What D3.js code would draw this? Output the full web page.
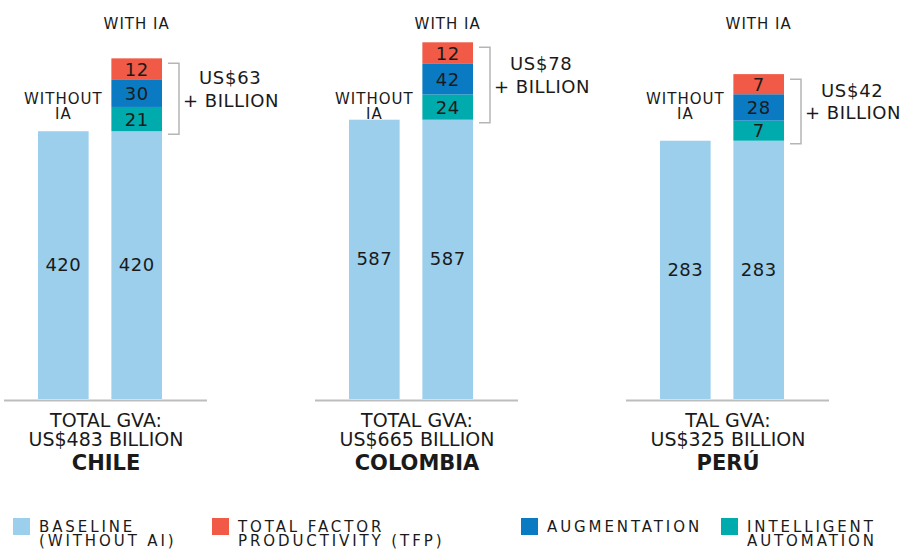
<!DOCTYPE html>
<html>
<head>
<meta charset="utf-8">
<script src="https://cdn.jsdelivr.net/npm/d3@7"></script>
<style>
body { margin: 0; background: #fff; }
text { font-family: "DejaVu Sans", sans-serif; fill: #1a1a1a; }
</style>
</head>
<body>
<div id="chart"></div>
<script>
// values (US$ billion)
const countries = ["CHILE", "COLOMBIA", "PERÚ"];
const baseline = [420, 587, 283];
const automation = [21, 24, 7];
const augmentation = [30, 42, 28];
const tfp = [12, 12, 7];
const gain = [63, 78, 42];
const totalGva = [483, 665, 325];
const gvaLabel = ["TOTAL GVA:", "TOTAL GVA:", "TAL GVA:"];
const legendLabels = [
    ["BASELINE", "(WITHOUT AI)"],
    ["TOTAL FACTOR", "PRODUCTIVITY (TFP)"],
    ["AUGMENTATION"],
    ["INTELLIGENT", "AUTOMATION"]
];

const colBase = "#9bcfec", colTfp = "#f05a46", colAug = "#0a7bc2", colAuto = "#00abad";
const legendColors = [colBase, colTfp, colAug, colAuto];
const legendX = [13, 212, 521, 721];

const width = 903, height = 549, bottom = 399;

let svg = d3.select("#chart")
    .append("svg")
    .attr("width", width)
    .attr("height", height);

// group centres
let x = d3.scalePoint()
    .domain(countries)
    .range([100, 722]);

let xb = d3.scaleBand()
    .domain(["without", "with"])
    .range([-62, 62])
    .paddingInner(0.31);
let bw = xb.bandwidth();

// the original is not drawn to scale: bar bodies sit on a broken axis,
// and the AI segments get a floor height so their labels fit
let y = d3.scaleLinear()
    .domain([0, 600])
    .range([160.3, 118.8]);

let seg = d3.scaleLinear()
    .domain([0, 42])
    .range([18, 30.6]);

countries.forEach(function(c, i) {
    let g = svg.append("g")
        .attr("transform", "translate(" + x(c) + ",0)");

    let baseTop = y(baseline[i]);

    ["without", "with"].forEach(function(k) {
        g.append("rect")
            .attr("x", xb(k))
            .attr("y", baseTop)
            .attr("width", bw)
            .attr("height", bottom - baseTop)
            .attr("fill", colBase);
        g.append("text")
            .attr("x", xb(k) + bw / 2)
            .attr("y", (baseTop + bottom) / 2 + 6)
            .attr("text-anchor", "middle")
            .style("font-size", "18px")
            .style("letter-spacing", "0.5px")
            .text(baseline[i]);
    });

    // stacked AI gains, bottom to top
    let layers = [[automation[i], colAuto], [augmentation[i], colAug], [tfp[i], colTfp]];
    let top = baseTop;
    layers.forEach(function(l) {
        let h = seg(l[0]);
        g.append("rect")
            .attr("x", xb("with"))
            .attr("y", top - h)
            .attr("width", bw)
            .attr("height", h)
            .attr("fill", l[1]);
        g.append("text")
            .attr("x", xb("with") + bw / 2)
            .attr("y", top - h / 2 + 6.5)
            .attr("text-anchor", "middle")
            .style("font-size", "18px")
            .style("letter-spacing", "0.5px")
            .text(l[0]);
        top -= h;
    });

    g.append("text")
        .attr("x", xb("with") + bw / 2)
        .attr("y", 29)
        .attr("text-anchor", "middle")
        .style("font-size", "15px")
        .style("letter-spacing", "1px")
        .text("WITH IA");

    g.selectAll(".wo")
        .data(["WITHOUT", "IA"])
        .enter()
        .append("text")
        .attr("x", xb("without") + bw / 2)
        .attr("y", (d, j) => 104 + j * 15)
        .attr("text-anchor", "middle")
        .style("font-size", "15px")
        .style("letter-spacing", "1px")
        .text(d => d);

    // bracket
    let bx = xb("with") + bw + 6;
    let bTop = top + 5, bBot = baseTop + 3;
    g.append("path")
        .attr("d", "M" + bx + "," + bTop + "H" + (bx + 11) + "V" + bBot + "H" + bx)
        .attr("fill", "none")
        .attr("stroke", "#b5b5b5")
        .attr("stroke-width", 1.5);

    let mid = (bTop + bBot) / 2;
    g.append("text")
        .attr("x", bx + 31)
        .attr("y", mid - 14.5)
        .style("font-size", "18px")
        .style("letter-spacing", "0.7px")
        .text("US$" + gain[i]);
    g.append("text")
        .attr("x", bx + 15)
        .attr("y", mid + 8)
        .style("font-size", "18px")
        .style("letter-spacing", "0.5px")
        .text("+ BILLION");

    // floor line and captions
    let cx = 6;
    g.append("line")
        .attr("x1", cx - 102)
        .attr("x2", cx + 101)
        .attr("y1", bottom + 1.5)
        .attr("y2", bottom + 1.5)
        .attr("stroke", "#bdbdbd")
        .attr("stroke-width", 2);

    g.append("text")
        .attr("x", cx)
        .attr("y", 427)
        .attr("text-anchor", "middle")
        .style("font-size", "19px")
        .text(gvaLabel[i]);
    g.append("text")
        .attr("x", cx)
        .attr("y", 446)
        .attr("text-anchor", "middle")
        .style("font-size", "19px")
        .text("US$" + totalGva[i] + " BILLION");
    g.append("text")
        .attr("x", cx)
        .attr("y", 470)
        .attr("text-anchor", "middle")
        .style("font-size", "21px")
        .style("font-weight", "bold")
        .text(c);
});

// legend
let legend = svg.append("g");
legendLabels.forEach(function(lines, i) {
    legend.append("rect")
        .attr("x", legendX[i])
        .attr("y", 518)
        .attr("width", 17)
        .attr("height", 17)
        .attr("fill", legendColors[i]);
    lines.forEach(function(t, j) {
        legend.append("text")
            .attr("x", legendX[i] + 26)
            .attr("y", 532 + j * 14)
            .style("font-size", "15px")
            .style("letter-spacing", "2.9px")
            .text(t);
    });
});
</script>
</body>
</html>
